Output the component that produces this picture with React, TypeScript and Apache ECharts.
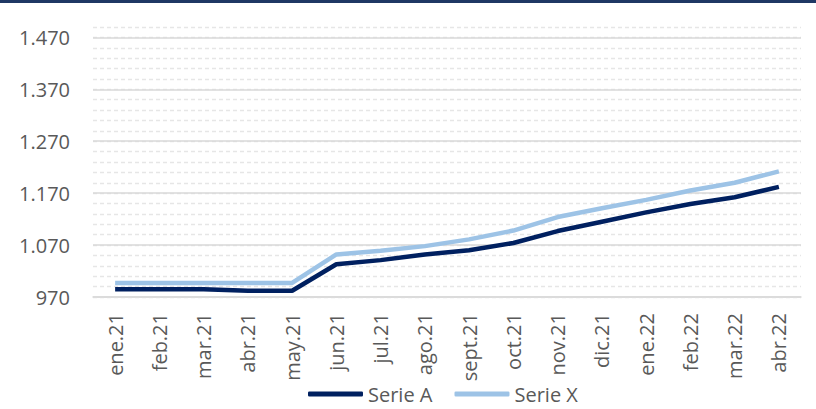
import React, { useEffect, useRef } from "react";
import * as echarts from "echarts";

const categories = ["ene.21", "feb.21", "mar.21", "abr.21", "may.21", "jun.21", "jul.21", "ago.21", "sept.21", "oct.21", "nov.21", "dic.21", "ene.22", "feb.22", "mar.22", "abr.22"];
const serieA = [985, 985, 985, 982, 982, 1033, 1041, 1052, 1060, 1074, 1097, 1115, 1133, 1149, 1162, 1182];
const serieX = [997, 997, 997, 997, 997, 1052, 1059, 1068, 1081, 1098, 1124, 1141, 1157, 1175, 1190, 1212];
const yMin = 970;
const yMax = 1490;
const majorStep = 100;
const minorStep = 20;

const fmt = (v: number) => {
  const s = String(Math.round(v));
  return s.length > 3 ? s.slice(0, s.length - 3) + "." + s.slice(-3) : s;
};

export default function App() {
  const ref = useRef<HTMLDivElement>(null);
  useEffect(() => {
    if (!ref.current) return;
    const chart = echarts.init(ref.current, null, { renderer: "svg" });
    const font = "'Open Sans', 'Noto Sans', sans-serif";
    const nMajor = Math.floor((yMax - yMin) / majorStep) + 1;
    const majorColors: string[] = [];
    for (let i = 0; i < nMajor; i++) majorColors.push("#d9d9d9");
    majorColors.push("rgba(0,0,0,0)");
    chart.setOption({
      animation: false,
      textStyle: { fontFamily: font },
      graphic: [
        { type: "rect", shape: { x: 0, y: 0, width: 816, height: 3 }, style: { fill: "#1f3864" } },
      ],
      grid: { left: 93, right: 15, top: 27, bottom: 112, containLabel: false },
      legend: {
        bottom: 0,
        left: 303,
        itemWidth: 55,
        itemHeight: 5,
        itemGap: 22,
        icon: "roundRect",
        textStyle: { fontSize: 20, color: "#595959", fontFamily: font },
        data: ["Serie A", "Serie X"],
      },
      xAxis: {
        type: "category",
        data: categories,
        boundaryGap: true,
        axisLine: { show: true, lineStyle: { color: "#d9d9d9", width: 1.5 } },
        axisTick: { show: false },
        axisLabel: { rotate: 90, fontSize: 20, color: "#595959", margin: 16, fontFamily: font },
      },
      yAxis: [
        {
          type: "value",
          min: yMin,
          max: yMax,
          interval: majorStep,
          axisLine: { show: false },
          axisTick: { show: false },
          axisLabel: {
            fontSize: 20,
            color: "#595959",
            margin: 23,
            fontFamily: font,
            formatter: (v: number) => ((v - yMin) % majorStep === 0 ? fmt(v) : ""),
          },
          splitLine: { show: true, lineStyle: { color: majorColors, width: 1.5 } },
          z: 2,
        },
        {
          type: "value",
          min: yMin,
          max: yMax,
          interval: minorStep,
          position: "left",
          axisLine: { show: false },
          axisTick: { show: false },
          axisLabel: { show: false },
          splitLine: { show: true, lineStyle: { color: "#e6e6e6", width: 1.3, type: [4, 3] } },
          z: 1,
        },
      ],
      series: [
        {
          name: "Serie A",
          type: "line",
          data: serieA,
          yAxisIndex: 0,
          symbol: "none",
          lineStyle: { color: "#002060", width: 4.5 },
          itemStyle: { color: "#002060" },
          z: 4,
        },
        {
          name: "Serie X",
          type: "line",
          data: serieX,
          yAxisIndex: 0,
          symbol: "none",
          lineStyle: { color: "#9dc3e6", width: 4.5 },
          itemStyle: { color: "#9dc3e6" },
          z: 3,
        },
      ],
    });
    return () => chart.dispose();
  }, []);
  return <div ref={ref} style={{ width: 816, height: 409, position: "absolute", left: 0, top: 0, background: "#fff" }} />;
}
